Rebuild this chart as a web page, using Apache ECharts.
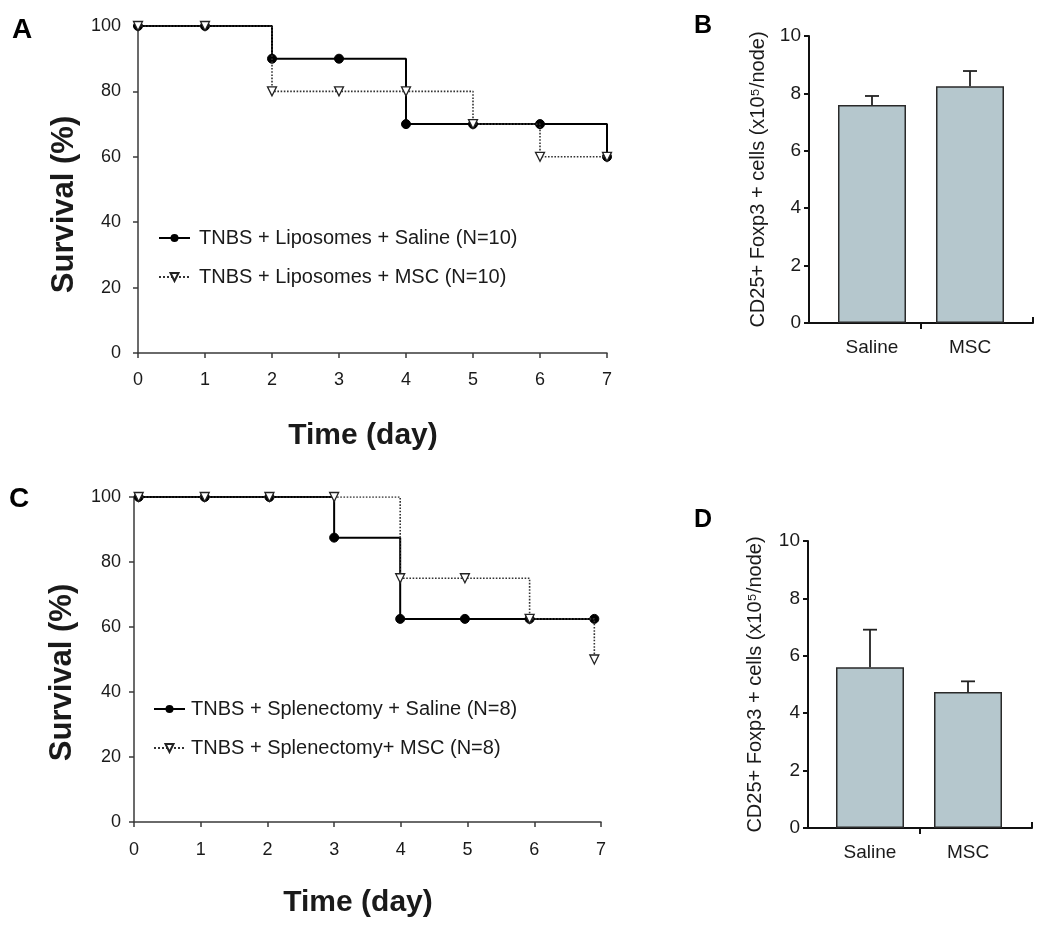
<!DOCTYPE html>
<html><head><meta charset="utf-8">
<script src="https://cdn.jsdelivr.net/npm/echarts@6/dist/echarts.min.js"></script>
<style>html,body{margin:0;padding:0;background:#fff}#c{width:1050px;height:928px}</style>
</head><body><div id="c"></div>
<script>
// ---- data ----
const daysA = [0, 1, 2, 3, 4, 5, 6, 7];
const salineA = [100, 100, 90, 90, 70, 70, 70, 60];
const mscA = [100, 100, 80, 80, 80, 70, 60, 60];
const daysC = [0.07, 1.06, 2.03, 3, 3.99, 4.96, 5.93, 6.9];
const salineC = [100, 100, 100, 87.5, 62.5, 62.5, 62.5, 62.5];
const mscC = [100, 100, 100, 100, 75, 75, 62.5, 50];
const namesA = ['TNBS + Liposomes + Saline (N=10)', 'TNBS + Liposomes + MSC (N=10)'];
const namesC = ['TNBS + Splenectomy + Saline (N=8)', 'TNBS + Splenectomy+ MSC (N=8)'];
const barCats = ['Saline', 'MSC'];
const meanB = [7.6, 8.25];
const errTopB = [7.91, 8.78];
const meanD = [5.6, 4.74];
const errTopD = [6.91, 5.11];

const FONT = 'Liberation Sans, Arial, Helvetica, sans-serif';
const TXT = '#1a1a1a';
const AX = '#3a3a3a';

function pair(xs, ys) { return xs.map((x, i) => [x, ys[i]]); }
function errData(means, tops) { return means.map((m, i) => [i, m, tops[i]]); }

const chart = echarts.init(document.getElementById('c'), null, {renderer: 'canvas'});

function survX(grid, nameGap, labelMargin) {
  return {
    type: 'value', gridIndex: grid, min: 0, max: 7, interval: 1,
    name: 'Time (day)', nameLocation: 'middle', nameGap: nameGap,
    nameTextStyle: {fontFamily: FONT, fontSize: 30, fontWeight: 'bold', color: TXT, padding: [0, 19, 0, 0]},
    axisLine: {show: true, onZero: false, lineStyle: {color: AX, width: 1.5}},
    axisTick: {show: true, length: 5, lineStyle: {color: AX, width: 1.5}},
    axisLabel: {fontFamily: FONT, fontSize: 18, color: TXT, margin: labelMargin},
    splitLine: {show: false}
  };
}
function survY(grid, nameGap, labelMargin, shift) {
  return {
    type: 'value', gridIndex: grid, min: 0, max: 100, interval: 20,
    name: 'Survival (%)', nameLocation: 'middle', nameGap: nameGap,
    nameTextStyle: {fontFamily: FONT, fontSize: 31, fontWeight: 'bold', color: TXT, padding: [0, shift, 0, 0]},
    axisLine: {show: true, lineStyle: {color: AX, width: 1.5}},
    axisTick: {show: true, length: 5, lineStyle: {color: AX, width: 1.5}},
    axisLabel: {fontFamily: FONT, fontSize: 18, color: TXT, margin: labelMargin},
    splitLine: {show: false}
  };
}
function salineSeries(name, xi, data) {
  return {
    name: name, type: 'line', xAxisIndex: xi, yAxisIndex: xi, step: 'end', data: data,
    symbol: 'circle', symbolSize: 9, z: 3,
    lineStyle: {color: '#000', width: 2},
    itemStyle: {color: '#000', borderColor: '#000'}
  };
}
function mscSeries(name, xi, data) {
  return {
    name: name, type: 'line', xAxisIndex: xi, yAxisIndex: xi, step: 'end', data: data,
    symbol: 'triangle', symbolRotate: 180, symbolSize: 9, z: 4,
    lineStyle: {color: '#333', width: 1.6, type: 'dotted'},
    itemStyle: {color: '#fff', borderColor: '#222', borderWidth: 1.3}
  };
}

function frameX(grid) {
  return {
    type: 'value', gridIndex: grid, min: 0, max: 2, interval: 1,
    axisLine: {show: true, onZero: false, lineStyle: {color: '#111', width: 2}},
    axisTick: {show: true, length: 6, customValues: [1], lineStyle: {color: '#111', width: 2}},
    axisLabel: {show: false}, splitLine: {show: false}
  };
}
function frameXEnd(grid) {
  return {
    type: 'value', gridIndex: grid, min: 0, max: 2, interval: 1, position: 'bottom',
    axisLine: {show: false},
    axisTick: {show: true, inside: true, length: 6, customValues: [2], lineStyle: {color: '#111', width: 2}},
    axisLabel: {show: false}, splitLine: {show: false}
  };
}
function frameY(grid, nameGap) {
  return {
    type: 'value', gridIndex: grid, min: 0, max: 10, interval: 2,
    name: 'CD25+ Foxp3 + cells (x10⁵/node)', nameLocation: 'middle', nameGap: nameGap,
    nameTextStyle: {fontFamily: FONT, fontSize: 20, color: TXT},
    axisLine: {show: true, lineStyle: {color: '#111', width: 2}},
    axisTick: {show: true, length: 5, lineStyle: {color: '#111', width: 2}},
    axisLabel: {fontFamily: FONT, fontSize: 19, color: TXT, margin: 8},
    splitLine: {show: false}
  };
}
function barX(grid) {
  return {
    type: 'category', gridIndex: grid, data: barCats,
    axisLine: {show: false}, axisTick: {show: false},
    axisLabel: {fontFamily: FONT, fontSize: 19, color: TXT, margin: 15}
  };
}
function barY(grid) {
  return {type: 'value', gridIndex: grid, min: 0, max: 10, interval: 2, show: false, splitLine: {show: false}};
}
function barSeries(xi, vals) {
  return {
    type: 'bar', xAxisIndex: xi, yAxisIndex: xi, data: vals, barWidth: 68, z: 2,
    itemStyle: {color: '#b5c7cd', borderColor: '#2a2a2a', borderWidth: 1.5}
  };
}
function errRender(params, api) {
  const x = api.value(0);
  const base = api.coord([x, api.value(1)]);
  const top = api.coord([x, api.value(2)]);
  const st = {stroke: '#222', lineWidth: 1.8};
  return {type: 'group', children: [
    {type: 'line', shape: {x1: base[0], y1: base[1], x2: top[0], y2: top[1]}, style: st},
    {type: 'line', shape: {x1: top[0] - 7, y1: top[1], x2: top[0] + 7, y2: top[1]}, style: st}
  ]};
}
function errSeries(xi, data) {
  return {type: 'custom', xAxisIndex: xi, yAxisIndex: xi, data: data, renderItem: errRender, z: 3};
}

function legendText(pad) {
  return {fontFamily: FONT, fontSize: 20, color: TXT, lineHeight: 20, padding: [0, 0, 0, pad]};
}

const option = {
  backgroundColor: '#fff',
  animation: false,
  textStyle: {fontFamily: FONT},
  grid: [
    {left: 138, top: 26, width: 469, height: 327},   // 0 A
    {left: 134, top: 497, width: 467, height: 325},  // 1 C
    {left: 809, top: 36, width: 224, height: 287},   // 2 B frame
    {left: 823, top: 36, width: 196, height: 287},   // 3 B bars
    {left: 808, top: 541, width: 224, height: 287},  // 4 D frame
    {left: 821, top: 541, width: 196, height: 287}   // 5 D bars
  ],
  xAxis: [
    survX(0, 68, 18), survX(1, 66, 19),
    frameX(2), barX(3), frameX(4), barX(5),
    frameXEnd(2), frameXEnd(4)
  ],
  yAxis: [
    survY(0, 58, 17, 30), survY(1, 56, 13, 26),
    frameY(2, 41), barY(3), frameY(4, 43), barY(5)
  ],
  legend: [
    {data: namesA, orient: 'vertical', left: 158, top: 228, padding: 0, itemWidth: 31, itemHeight: 10, itemGap: 19, textStyle: legendText(4), selectedMode: false},
    {data: namesC, orient: 'vertical', left: 153, top: 699, padding: 0, itemWidth: 31, itemHeight: 10, itemGap: 19, textStyle: legendText(1), selectedMode: false}
  ],
  series: [
    salineSeries(namesA[0], 0, pair(daysA, salineA)),
    mscSeries(namesA[1], 0, pair(daysA, mscA)),
    salineSeries(namesC[0], 1, pair(daysC, salineC)),
    mscSeries(namesC[1], 1, pair(daysC, mscC)),
    barSeries(3, meanB), errSeries(3, errData(meanB, errTopB)),
    barSeries(5, meanD), errSeries(5, errData(meanD, errTopD))
  ],
  graphic: [
    {type: 'text', left: 12, top: 16, style: {text: 'A', font: 'bold 28px ' + FONT, fill: '#000'}},
    {type: 'text', left: 694, top: 14, style: {text: 'B', font: 'bold 25px ' + FONT, fill: '#000'}},
    {type: 'text', left: 9, top: 485, style: {text: 'C', font: 'bold 28px ' + FONT, fill: '#000'}},
    {type: 'text', left: 694, top: 508, style: {text: 'D', font: 'bold 25px ' + FONT, fill: '#000'}}
  ]
};
chart.setOption(option);
</script>
</body></html>
